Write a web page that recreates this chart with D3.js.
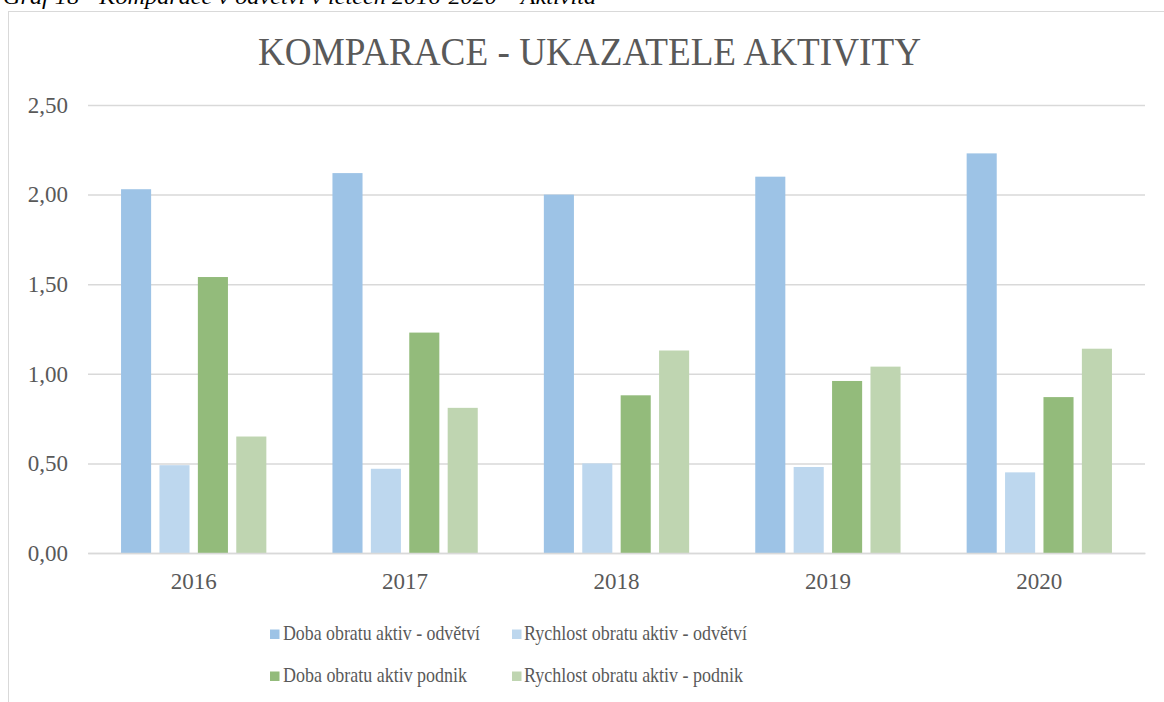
<!DOCTYPE html>
<html>
<head>
<meta charset="utf-8">
<script src="https://cdn.jsdelivr.net/npm/d3@7"></script>
<style>
  html, body { margin: 0; padding: 0; background: #fff; }
  svg { display: block; }
</style>
</head>
<body>
<svg id="chart" width="1164" height="702"></svg>
<script>
const years = ["2016", "2017", "2018", "2019", "2020"];
const seriesNames = [
  "Doba obratu aktiv - odvětví",
  "Rychlost obratu aktiv - odvětví",
  "Doba obratu aktiv podnik",
  "Rychlost obratu aktiv - podnik"
];
const dobaOdvetvi = [2.03, 2.12, 2.00, 2.10, 2.23];
const rychlostOdvetvi = [0.49, 0.47, 0.50, 0.48, 0.45];
const dobaPodnik = [1.54, 1.23, 0.88, 0.96, 0.87];
const rychlostPodnik = [0.65, 0.81, 1.13, 1.04, 1.14];
const yTicks = [0, 0.5, 1.0, 1.5, 2.0, 2.5];
const colors = ["#9dc3e6", "#bdd7ee", "#93bb7b", "#bfd5b1"];
const titleText = "KOMPARACE - UKAZATELE AKTIVITY";
const captionText = "Graf 18 - Komparace v odvětví v letech 2016-2020 – Aktivita";

const seriesValues = [dobaOdvetvi, rychlostOdvetvi, dobaPodnik, rychlostPodnik];
const data = years.map((y, i) => ({
  year: y,
  values: seriesNames.map((s, j) => ({ series: s, value: seriesValues[j][i], idx: j }))
}));

const svg = d3.select("#chart");
const font = "'Liberation Serif', 'Times New Roman', serif";
const textColor = "#595959";

// caption (cut off at top, as in the source)
svg.append("text")
  .attr("x", 3).attr("y", 4)
  .attr("font-family", font).attr("font-style", "italic")
  .attr("font-size", 22).attr("fill", "#000")
  .attr("textLength", 593).attr("lengthAdjust", "spacingAndGlyphs")
  .text(captionText);

// chart frame
svg.append("rect")
  .attr("x", 8.5).attr("y", 11.5)
  .attr("width", 1170).attr("height", 720)
  .attr("fill", "#fff").attr("stroke", "#d9d9d9").attr("stroke-width", 1);

const plot = { left: 88, right: 1145, top: 105, bottom: 553 };

const x0 = d3.scaleBand().domain(years).range([plot.left, plot.right])
  .paddingInner(0.3127).paddingOuter(0.3127 / 2);
const x1 = d3.scaleBand().domain(seriesNames).range([0, x0.bandwidth()])
  .paddingInner(0.217).paddingOuter(0);
const y = d3.scaleLinear().domain([0, 2.5]).range([plot.bottom, plot.top]);

// gridlines + y labels
const yAxis = d3.axisLeft(y).tickValues(yTicks)
  .tickSize(-(plot.right - plot.left)).tickPadding(20)
  .tickFormat(d => d3.format(".2f")(d).replace(".", ","));
const gy = svg.append("g").attr("transform", `translate(${plot.left},0)`).call(yAxis);
gy.select(".domain").remove();
gy.selectAll(".tick line").attr("stroke", "#d9d9d9").attr("stroke-width", 1.5);
gy.selectAll(".tick text").attr("font-family", font).attr("font-size", 23)
  .attr("fill", textColor);

// bars
const groups = svg.append("g").selectAll("g").data(data).join("g")
  .attr("transform", d => `translate(${x0(d.year)},0)`);
groups.selectAll("rect").data(d => d.values).join("rect")
  .attr("x", d => x1(d.series))
  .attr("width", x1.bandwidth())
  .attr("y", d => y(d.value))
  .attr("height", d => y(0) - y(d.value))
  .attr("fill", d => colors[d.idx]);

// x axis
const xAxis = d3.axisBottom(x0).tickSize(0).tickPadding(20);
const gx = svg.append("g").attr("transform", `translate(0,${plot.bottom})`).call(xAxis);
gx.select(".domain").attr("stroke", "#d9d9d9").attr("stroke-width", 1.5);
gx.selectAll(".tick text").attr("font-family", font).attr("font-size", 23)
  .attr("fill", textColor);

// title
svg.append("text")
  .attr("x", 258).attr("y", 65)
  .attr("font-family", font).attr("font-size", 40)
  .attr("fill", textColor)
  .attr("textLength", 663).attr("lengthAdjust", "spacingAndGlyphs")
  .text(titleText);

// legend
const legendPos = [
  { sx: 270, tx: 283, base: 640, w: 197 },
  { sx: 512, tx: 524, base: 640, w: 223 },
  { sx: 270, tx: 283, base: 682, w: 184 },
  { sx: 512, tx: 524, base: 682, w: 219 }
];
const legend = svg.append("g").selectAll("g").data(seriesNames).join("g");
legend.append("rect")
  .attr("x", (d, i) => legendPos[i].sx)
  .attr("y", (d, i) => legendPos[i].base - 10.5)
  .attr("width", 9.5).attr("height", 9.5)
  .attr("fill", (d, i) => colors[i]);
legend.append("text")
  .attr("x", (d, i) => legendPos[i].tx)
  .attr("y", (d, i) => legendPos[i].base)
  .attr("font-family", font).attr("font-size", 22)
  .attr("fill", textColor)
  .attr("textLength", (d, i) => legendPos[i].w)
  .attr("lengthAdjust", "spacingAndGlyphs")
  .text(d => d);
</script>
</body>
</html>
